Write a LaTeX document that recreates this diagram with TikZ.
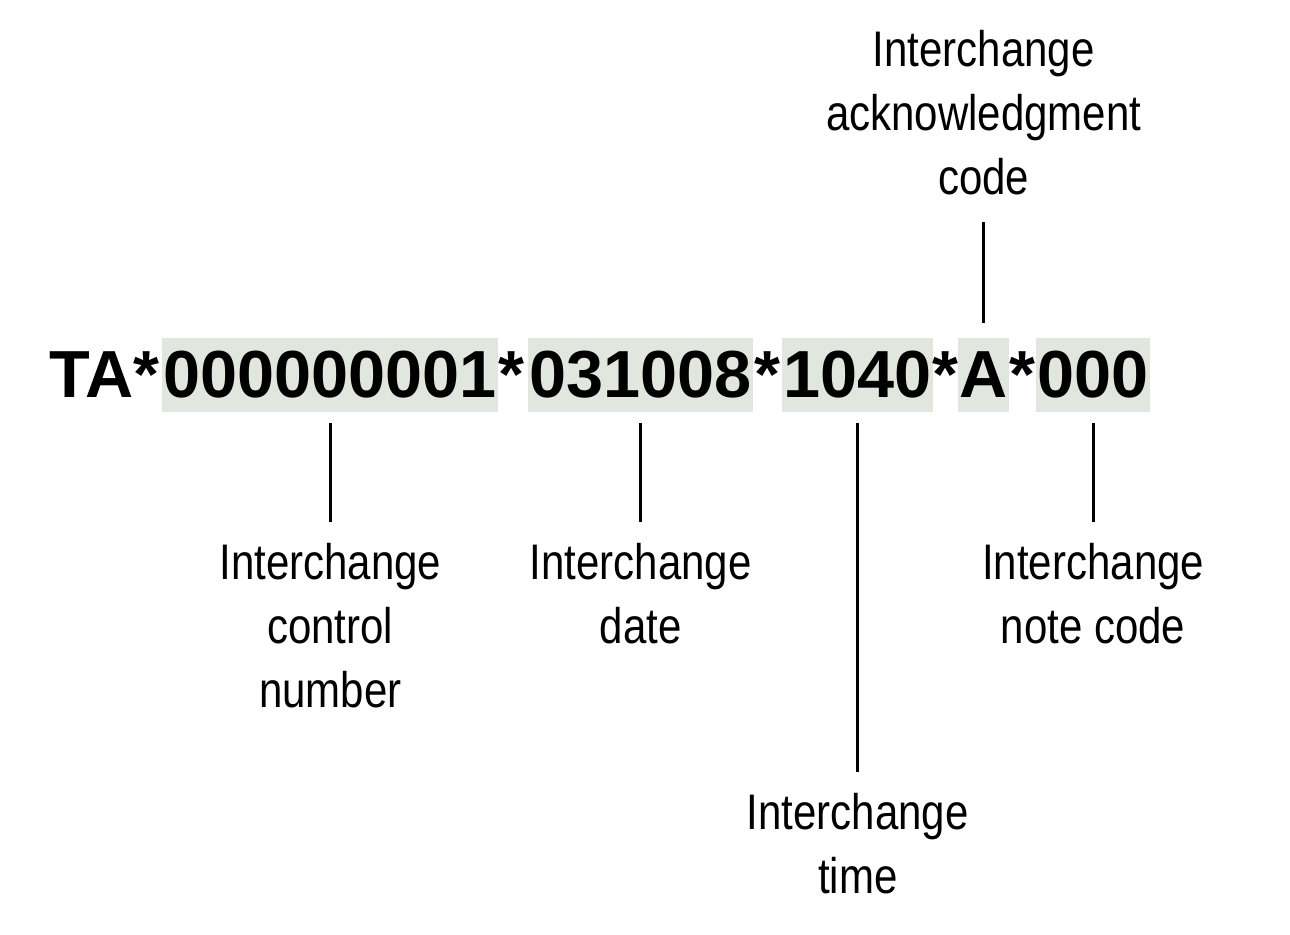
\documentclass[tikz,border=0pt]{standalone}
\usepackage{fontspec}
\setmainfont{Liberation Sans}
\newfontfamily\narrowfont[FakeStretch=0.84]{Liberation Sans}
\usepackage{xcolor}
\usetikzlibrary{positioning}

\definecolor{fieldbg}{HTML}{E1E6DE}

\tikzset{
  segfont/.style = {font=\fontsize{33.3}{40}\selectfont\bfseries, inner sep=0pt},
  field/.style = {segfont, fill=fieldbg, anchor=base west, inner xsep=0.6pt,
                  text height=29.5pt, text depth=7.5pt},
  asterisk/.style = {segfont, anchor=base},
  fieldname/.style = {font=\narrowfont\fontsize{25}{32}\selectfont, align=center, inner sep=0pt},
  leader/.style = {line width=1.6pt, shorten <=5.5pt, shorten >=10.25pt}
}

\begin{document}
\begin{tikzpicture}[x=0.5pt, y=-0.5pt]
    \useasboundingbox (0, 0) rectangle (1290, 934);
    % the segment
    {
      \node[field] (icn) at (162, 397) {000000001};
      \node[field] (date) at (528, 397) {031008};
      \node[field] (time) at (782, 397) {1040};
      \node[field] (ack) at (958, 397) {A};
      \node[field] (note) at (1036, 397) {000};
    }
    {
      \node[asterisk, anchor=base east] (ta) at ([xshift=-1pt]icn.base west) {TA*};
      \node[asterisk] (s1) at (511.5, 397) {*};
      \node[asterisk] (s2) at (767, 397) {*};
      \node[asterisk] (s3) at (945, 397) {*};
      \node[asterisk] (s4) at (1022, 397) {*};
    }
    % the element names
    \node[fieldname, below=65.25pt of icn] (icnname) {Interchange\\control\\number};
    \node[fieldname, below=65.25pt of date] (datename) {Interchange\\date};
    \node[fieldname, below=190.25pt of time] (timename) {Interchange\\time};
    \node[fieldname, below=65.25pt of note] (notename) {Interchange\\note code};
    \node[fieldname, above=71pt of ack] (ackname) {Interchange\\acknowledgment\\code};

    \draw[leader] (icn) -- (icnname);
    \draw[leader] (date) -- (datename);
    \draw[leader] (time) -- (timename);
    \draw[leader] (note) -- (notename);
    \draw[leader, shorten <=7.5pt, shorten >=13pt] (ack) -- (ackname);
  \end{tikzpicture}
\end{document}
